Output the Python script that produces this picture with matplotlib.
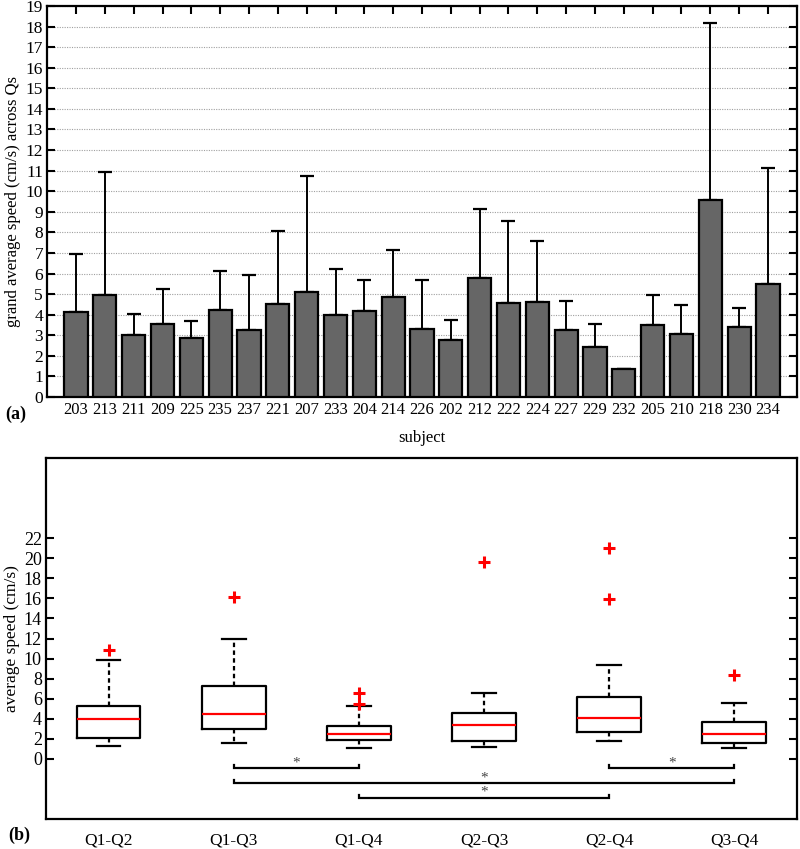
import matplotlib
matplotlib.use("Agg")
import matplotlib.pyplot as plt
import numpy as np

plt.rcParams['font.family'] = ['Liberation Serif', 'DejaVu Serif']

# panel (a): per-subject grand average speed and upper error
subjects = ["203", "213", "211", "209", "225", "235", "237", "221", "207", "233",
            "204", "214", "226", "202", "212", "222", "224", "227", "229", "232",
            "205", "210", "218", "230", "234"]
means = [4.15, 4.98, 3.03, 3.55, 2.87, 4.21, 3.27, 4.54, 5.11, 3.99,
         4.20, 4.88, 3.32, 2.76, 5.80, 4.59, 4.60, 3.27, 2.43, 1.36,
         3.50, 3.06, 9.58, 3.40, 5.49]
err_tops = [6.97, 10.92, 4.02, 5.24, 3.70, 6.11, 5.95, 8.07, 10.73, 6.24,
            5.69, 7.16, 5.70, 3.76, 9.14, 8.53, 7.57, 4.67, 3.53, 1.36,
            4.96, 4.47, 18.16, 4.33, 11.15]

# panel (b): box stats per quartile pair
pairs = ["Q1-Q2", "Q1-Q3", "Q1-Q4", "Q2-Q3", "Q2-Q4", "Q3-Q4"]
q1 = [2.12, 2.99, 1.89, 1.79, 2.65, 1.59]
med = [4.01, 4.44, 2.45, 3.35, 4.05, 2.45]
q3 = [5.31, 7.23, 3.32, 4.61, 6.17, 3.71]
whislo = [1.26, 1.63, 1.09, 1.19, 1.76, 1.09]
whishi = [9.85, 11.91, 5.24, 6.57, 9.32, 5.61]
fliers = [[10.81], [16.15], [6.57, 5.47], [19.63], [21.06, 15.99], [8.36]]
# significant pairs (1-based box index)
sig_pairs = [(2, 3), (2, 6), (3, 5), (5, 6)]
sig_levels = [-0.96, -2.45, -3.88, -0.96]

fig = plt.figure(figsize=(8.0, 8.49), dpi=100)

# ---- (a) ----
ax1 = fig.add_axes([0.059, 0.5324, 0.937, 0.4605])
x = np.arange(1, len(subjects) + 1)
means_a = np.asarray(means)
upper = np.asarray(err_tops) - means_a
ax1.bar(x, means_a, width=0.8, color="#666666", edgecolor="black", linewidth=1.6, zorder=3)
ax1.errorbar(x, means_a, yerr=[np.zeros_like(upper), upper], fmt="none", ecolor="black",
             elinewidth=1.4, capsize=5, capthick=1.6, zorder=2)
ax1.set_xlim(0, len(subjects) + 1)
ax1.set_ylim(0, 19)
ax1.set_yticks(np.arange(0, 20))
ax1.set_xticks(x)
ax1.set_xticklabels(subjects, fontsize=12)
ax1.tick_params(axis="y", labelsize=12.5, pad=3)
ax1.tick_params(direction="in", top=True, right=True, length=5.5, width=1.5)
ax1.yaxis.grid(True, linestyle=(0, (1, 1.2)), color="#a0a0a0", linewidth=0.8, zorder=0)
ax1.set_axisbelow(True)
for s in ax1.spines.values():
    s.set_linewidth(1.6)
ax1.set_xlabel("subject", fontsize=12, labelpad=9)
ax1.set_ylabel("grand average speed (cm/s) across Qs", fontsize=12, labelpad=3)
fig.text(0.006, 1 - 419 / 849, "(a)", fontsize=13, fontweight="bold")

# ---- (b) ----
ax2 = fig.add_axes([0.0575, 0.0353, 0.9385, 0.4252])
stats = []
for i in range(len(pairs)):
    stats.append(dict(label=pairs[i], q1=q1[i], med=med[i], q3=q3[i],
                      whislo=whislo[i], whishi=whishi[i], fliers=fliers[i]))
ax2.bxp(stats, positions=np.arange(1, len(pairs) + 1), widths=0.51, capwidths=0.19,
        boxprops=dict(color="black", linewidth=1.6),
        whiskerprops=dict(color="black", linewidth=1.6, linestyle=(0, (2, 1.5))),
        capprops=dict(color="black", linewidth=1.6),
        medianprops=dict(color="red", linewidth=1.6),
        flierprops=dict(marker="+", markeredgecolor="red", markersize=9, markeredgewidth=2.2))
for (a, b), lev in zip(sig_pairs, sig_levels):
    ax2.plot([a, a, b, b], [lev + 0.3, lev, lev, lev + 0.3], color="black", linewidth=1.6,
             solid_joinstyle="miter")
    ax2.text((a + b) / 2, lev - 0.1, "*", ha="center", va="bottom", fontsize=11, color="#444444")
ax2.set_xlim(0.5, len(pairs) + 0.5)
ax2.set_ylim(-6, 30)
ax2.set_yticks(np.arange(0, 23, 2))
ax2.tick_params(axis="y", direction="in", right=True, length=5.5, width=1.5, labelsize=13, pad=3)
ax2.tick_params(axis="x", length=0, labelsize=12.5, pad=10)
for s in ax2.spines.values():
    s.set_linewidth(1.6)
ax2.set_ylabel("average speed (cm/s)", fontsize=12.5, labelpad=3)
fig.text(0.01, 1 - 840 / 849, "(b)", fontsize=13, fontweight="bold")

fig.savefig("out.png", dpi=100)
